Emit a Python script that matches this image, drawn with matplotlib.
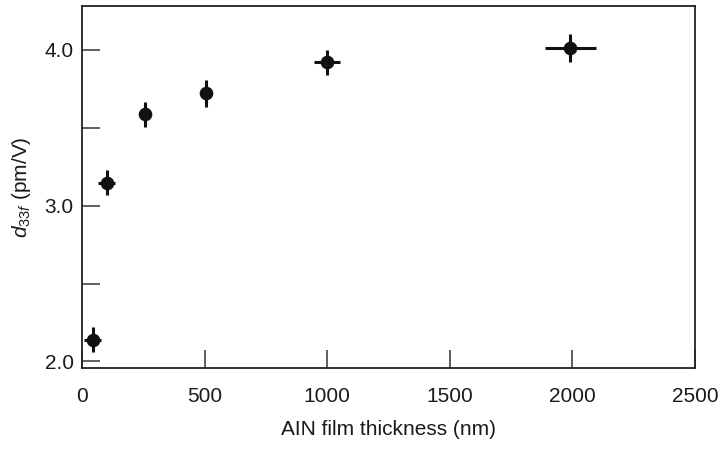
import matplotlib
matplotlib.use('Agg')
import matplotlib.pyplot as plt
from matplotlib.ticker import FixedLocator

# data
thickness = [43, 101, 257, 505, 1000, 1992]
thickness_err = [36, 35, 22, 22, 53, 104]
d33f = [2.14, 3.145, 3.585, 3.72, 3.92, 4.01]
d33f_err = [0.08, 0.08, 0.08, 0.085, 0.08, 0.09]

x_ticks = [0, 500, 1000, 1500, 2000, 2500]
y_major = [2.0, 3.0, 4.0]
y_minor = [2.5, 3.5]

plt.rcParams['font.family'] = ['Liberation Sans', 'DejaVu Sans']
plt.rcParams['mathtext.fontset'] = 'custom'
plt.rcParams['mathtext.it'] = 'Liberation Sans:italic'
plt.rcParams['mathtext.rm'] = 'Liberation Sans'

fig = plt.figure(figsize=(7.18, 4.5), dpi=100)
ax = fig.add_axes([82 / 718, 1 - 368 / 450, (695 - 82) / 718, (368 - 6) / 450])

ax.errorbar(thickness, d33f, xerr=thickness_err, yerr=d33f_err, fmt='o',
            color='#111111', markersize=8.8, elinewidth=2.2, capsize=0)

ax.set_xlim(0, 2500)
ax.set_ylim(1.958, 4.28)
ax.xaxis.set_major_locator(FixedLocator(x_ticks))
ax.yaxis.set_major_locator(FixedLocator(y_major))
ax.yaxis.set_minor_locator(FixedLocator(y_minor))
ax.set_yticklabels(['2.0', '3.0', '4.0'])

for side in ax.spines:
    ax.spines[side].set_linewidth(1.3)
    ax.spines[side].set_color('#222222')

ax.tick_params(axis='both', which='both', direction='in', length=13,
               width=1.2, color='#444444', labelsize=15, labelcolor='#1a1a1a')
ax.tick_params(axis='x', pad=14)
ax.tick_params(axis='y', pad=6)

ax.set_xlabel('AIN film thickness (nm)', fontsize=15, color='#1a1a1a', labelpad=10)
ax.set_ylabel(r'$d_{33f}$ (pm/V)', fontsize=15, color='#1a1a1a', labelpad=8)

fig.savefig('out.png', dpi=100)
